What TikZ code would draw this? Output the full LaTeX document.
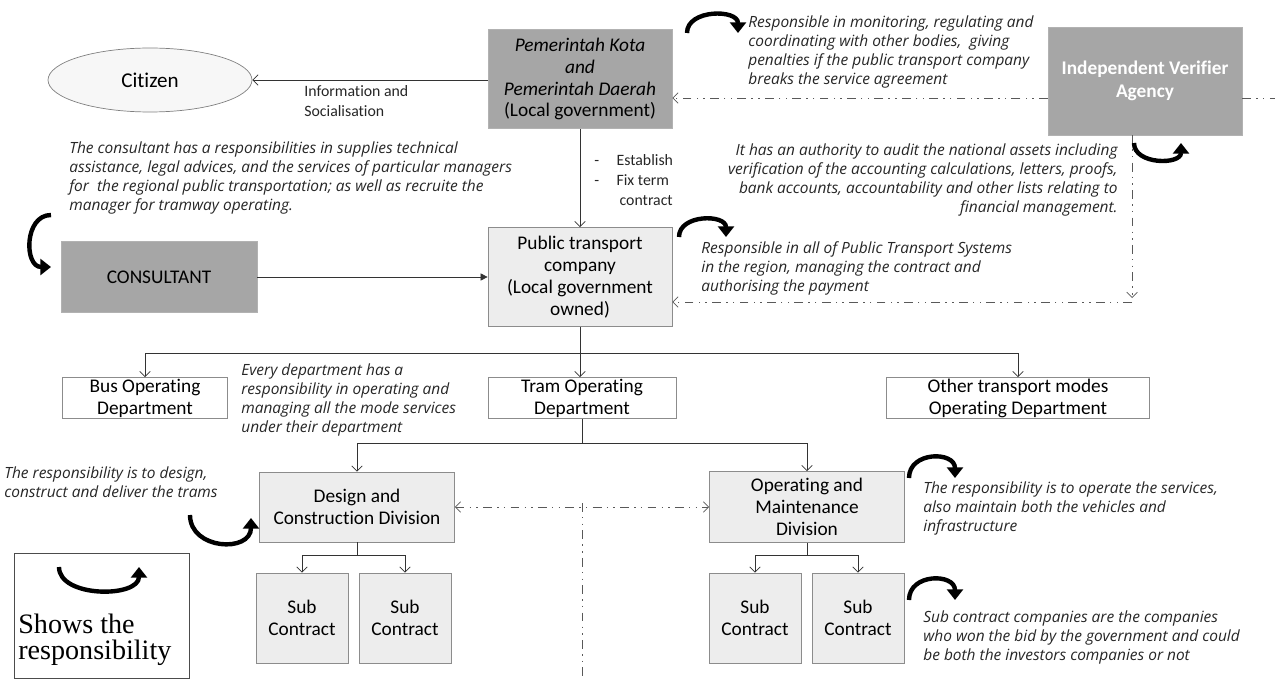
\documentclass[tikz,border=0pt]{standalone}
\usepackage{fontspec}
\setmainfont{Carlito}[Ligatures={NoCommon}]
\newfontfamily\noteFont{Open Sans}
\newfontfamily\legendFont{Liberation Serif}
\usetikzlibrary{arrows.meta,shapes.geometric}
\newcommand{\respArc}[3]{%
  \draw[respStyle] (#1) .. controls +(#3) and +(#3) .. (#2);
}

\begin{document}
\begin{tikzpicture}[%
  x=0.02cm,y=-0.02cm,%
  boxStyle/.style={draw=black!45,fill=black!7,inner sep=0pt,align=center,font=\fontsize{11}{12.5}\selectfont},%
  whiteBoxStyle/.style={boxStyle,fill=white},%
  darkBoxStyle/.style={boxStyle,draw=black!30,fill=black!35},%
  noteStyle/.style={inner sep=0pt,align=left,text=black!85,font=\noteFont\itshape\fontsize{8.8}{10.8}\selectfont},%
  labelStyle/.style={inner sep=0pt,align=left,text=black!85,font=\fontsize{9}{11.5}\selectfont},%
  lineStyle/.style={draw=black!80,thin,-{Straight Barb[length=3pt,width=6pt]}},%
  dashStyle/.style={lineStyle,draw=black!65,dash pattern=on 5pt off 3pt on 0.8pt off 3pt on 0.8pt off 3pt},%
  respStyle/.style={black,line width=2.5pt,-{Triangle[length=6pt,width=9pt]}}%
]
\useasboundingbox (0,0) rectangle (1275,679);
%
% Top row.
\node[ellipse,draw=black!50,fill=black!3,minimum width=4.08cm,minimum height=1.28cm,inner sep=0pt,font=\fontsize{12}{14}\selectfont] (citizen) at (150,80) {Citizen};
\node[darkBoxStyle,minimum width=3.68cm,minimum height=1.98cm] (gov) at (580,79)
  {\textit{Pemerintah Kota}\\\textit{and}\\\textit{Pemerintah Daerah}\\(Local government)};
\node[darkBoxStyle,minimum width=3.88cm,minimum height=2.16cm,text=white,font=\bfseries\fontsize{11}{13}\selectfont] (iva) at (1145,81)
  {Independent Verifier\\Agency};
%
% Middle row.
\node[darkBoxStyle,minimum width=3.92cm,minimum height=1.42cm] (consultant) at (159,277) {CONSULTANT};
\node[boxStyle,minimum width=3.68cm,minimum height=1.98cm] (ptc) at (580,277)
  {Public transport\\company\\(Local government\\owned)};
%
% Departments.
\node[whiteBoxStyle,minimum width=3.3cm,minimum height=0.82cm] (bus) at (145,398) {Bus Operating\\Department};
\node[whiteBoxStyle,minimum width=3.76cm,minimum height=0.82cm] (tram) at (582,398) {Tram Operating\\Department};
\node[whiteBoxStyle,minimum width=5.26cm,minimum height=0.82cm] (other) at (1018,398) {Other transport modes\\Operating Department};
%
% Divisions and sub contracts.
\node[boxStyle,minimum width=3.9cm,minimum height=1.4cm] (dc) at (357,507) {Design and\\Construction Division};
\node[boxStyle,minimum width=3.9cm,minimum height=1.42cm] (om) at (807,507) {Operating and\\Maintenance\\Division};
\node[boxStyle,minimum width=1.84cm,minimum height=1.8cm] (subA) at (302,618) {Sub\\Contract};
\node[boxStyle,minimum width=1.84cm,minimum height=1.8cm] (subB) at (405,618) {Sub\\Contract};
\node[boxStyle,minimum width=1.84cm,minimum height=1.8cm] (subC) at (755,618) {Sub\\Contract};
\node[boxStyle,minimum width=1.84cm,minimum height=1.8cm] (subD) at (858,618) {Sub\\Contract};
%
% Labels and notes.
\node[labelStyle,anchor=north west] (info) at (304,85) {Information and\\Socialisation};
\node[labelStyle,anchor=north west] (establish) at (594,154)
  {-\hspace{1.1em}Establish\\-\hspace{1.1em}Fix term\\\hspace{1.6em}contract};
\node[noteStyle,anchor=north west] (govNote) at (748,15)
  {Responsible in monitoring, regulating and\\coordinating with other bodies,\ \ giving\\penalties if the public transport company\\breaks the service agreement};
\node[noteStyle,anchor=north east,align=right] (auditNote) at (1118,143)
  {It has an authority to audit the national assets including\\verification of the accounting calculations, letters, proofs,\\bank accounts, accountability and other lists relating to\\financial management.};
\node[noteStyle,anchor=north west] (consultantNote) at (69,141)
  {The consultant has a responsibilities in supplies technical\\assistance, legal advices, and the services of particular managers\\for\ \ the regional public transportation; as well as recruite the\\manager for tramway operating.};
\node[noteStyle,anchor=north west] (ptcNote) at (701,241)
  {Responsible in all of Public Transport Systems\\in the region, managing the contract and\\authorising the payment};
\node[noteStyle,anchor=north west] (deptNote) at (241,363)
  {Every department has a\\responsibility in operating and\\managing all the mode services\\under their department};
\node[noteStyle,anchor=north west] (dcNote) at (4,466)
  {The responsibility is to design,\\construct and deliver the trams};
\node[noteStyle,anchor=north west] (omNote) at (923,481)
  {The responsibility is to operate the services,\\also maintain both the vehicles and\\infrastructure};
\node[noteStyle,anchor=north west] (subNote) at (923,610)
  {Sub contract companies are the companies\\who won the bid by the government and could\\be both the investors companies or not};
%
% Legend.
\node[draw=black!70,minimum width=3.5cm,minimum height=2.5cm,inner sep=0pt] (legend) at (101.5,615.5) {};
\node[anchor=west,inner sep=0pt,align=left,font=\legendFont\fontsize{16}{15}\selectfont] (legendText) at (18,640)
  {Shows the\\responsibility};
%
% Coordinates for the connectors.
\coordinate (govLine) at (0,98);
\coordinate (rightEdge) at (1275,98);
\coordinate (auditTop) at (1132,298);
\coordinate (auditLow) at (1132,302);
\coordinate (deptRow) at (0,353);
\coordinate (divRow) at (0,443);
\coordinate (subRow) at (0,555);
\coordinate (splitTop) at (582,503);
\coordinate (splitBottom) at (582,679);
%
% Connectors.
\draw[lineStyle] (gov.west |- citizen) -- (citizen.east);
\draw[lineStyle] (gov.south) -- (ptc.north);
\draw[lineStyle,-{Triangle[length=4pt,width=4pt]}] (consultant.east) -- (consultant.east -| ptc.west);
\draw[lineStyle] (ptc.south) -- (ptc.south |- tram.north);
\draw[lineStyle] (ptc.south |- deptRow) -| (bus.north);
\draw[lineStyle] (ptc.south |- deptRow) -| (other.north);
\draw[draw=black!80,thin] (tram.south) -- (tram.south |- divRow);
\draw[lineStyle] (tram.south |- divRow) -| (dc.north);
\draw[lineStyle] (tram.south |- divRow) -| (om.north);
\draw[draw=black!80,thin] (dc.south) -- (dc.south |- subRow);
\draw[lineStyle] (dc.south |- subRow) -| (subA.north);
\draw[lineStyle] (dc.south |- subRow) -| (subB.north);
\draw[draw=black!80,thin] (om.south) -- (om.south |- subRow);
\draw[lineStyle] (om.south |- subRow) -| (subC.north);
\draw[lineStyle] (om.south |- subRow) -| (subD.north);
% Dash-dotted links.
\draw[dashStyle] (iva.west |- govLine) -- (gov.east |- govLine);
\draw[dashStyle,-] (iva.east |- govLine) -- (rightEdge);
\draw[dashStyle] (iva.south -| auditTop) -- (auditTop);
\draw[dashStyle] (auditLow) -- (auditLow -| ptc.east);
\draw[dashStyle,{Straight Barb[length=3pt,width=6pt]}-{Straight Barb[length=3pt,width=6pt]}] (dc.east) -- (om.west);
\draw[dashStyle,-] (splitTop) -- (splitBottom);
%
% Responsibility marks.
\respArc{687,33}{738,33}{0,-24}
\respArc{1134,143}{1181,143}{0,22}
\respArc{679,237}{726,237}{0,-23}
\respArc{51,215}{51,267}{-27,0}
\respArc{190,515}{251,518}{0,35}
\respArc{909,478}{955,478}{0,-27}
\respArc{909,600}{955,600}{0,-27}
\respArc{59,567}{139,567}{0,31}
\end{tikzpicture}
\end{document}
